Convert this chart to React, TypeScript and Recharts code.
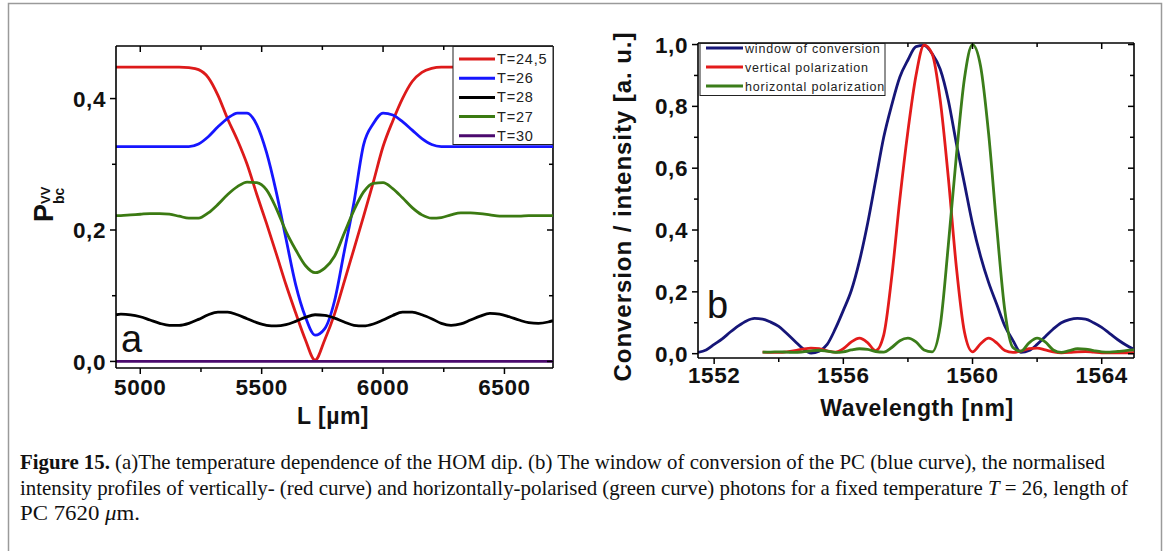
import React from 'react';
import { LineChart, Line, XAxis, YAxis, ReferenceLine } from 'recharts';

// (a) HOM dip vs PC length, for several temperatures
const lengthUm = [
  4900, 4920, 4960, 5000, 5040, 5080, 5120, 5160, 5200, 5240, 5280, 5320, 5360, 5400, 5440, 5480,
  5520, 5560, 5600, 5640, 5680, 5720, 5760, 5800, 5840, 5880, 5920, 5960, 6000, 6040, 6080, 6120,
  6160, 6200, 6240, 6280, 6320, 6360, 6400, 6440, 6480, 6520, 6560, 6600, 6640, 6680, 6700,
];
const pT245 = [
  0.448, 0.448, 0.448, 0.448, 0.448, 0.448, 0.448, 0.448, 0.447, 0.444, 0.432, 0.405, 0.369, 0.337, 0.3, 0.254,
  0.21, 0.164, 0.117, 0.074, 0.033, 0.002, 0.033, 0.072, 0.121, 0.171, 0.221, 0.273, 0.327, 0.366, 0.4, 0.426,
  0.44, 0.446, 0.448, 0.448, 0.448, 0.448, 0.448, 0.448, 0.448, 0.448, 0.448, 0.448, 0.448, 0.448, 0.448,
];
const pT26 = [
  0.327, 0.327, 0.327, 0.327, 0.327, 0.327, 0.327, 0.327, 0.327, 0.331, 0.342, 0.357, 0.37, 0.378, 0.378, 0.36,
  0.318, 0.258, 0.187, 0.117, 0.068, 0.04, 0.05, 0.092, 0.167, 0.242, 0.33, 0.362, 0.378, 0.375, 0.365, 0.352,
  0.339, 0.33, 0.327, 0.327, 0.327, 0.327, 0.327, 0.327, 0.327, 0.327, 0.327, 0.327, 0.327, 0.327, 0.327,
];
const pT28 = [
  0.071, 0.072, 0.071, 0.068, 0.063, 0.058, 0.055, 0.055, 0.058, 0.064, 0.071, 0.075, 0.075, 0.071, 0.065, 0.059,
  0.055, 0.054, 0.056, 0.061, 0.067, 0.071, 0.07, 0.066, 0.06, 0.055, 0.054, 0.057, 0.063, 0.07, 0.075, 0.075,
  0.071, 0.065, 0.058, 0.055, 0.057, 0.063, 0.069, 0.073, 0.072, 0.068, 0.063, 0.059, 0.058, 0.06, 0.062,
];
const pT27 = [
  0.222, 0.222, 0.223, 0.224, 0.225, 0.225, 0.224, 0.221, 0.218, 0.218, 0.226, 0.239, 0.254, 0.266, 0.273, 0.272,
  0.261, 0.233, 0.198, 0.17, 0.146, 0.135, 0.142, 0.16, 0.195, 0.23, 0.258, 0.271, 0.272, 0.263, 0.249, 0.234,
  0.223, 0.218, 0.219, 0.223, 0.226, 0.226, 0.225, 0.223, 0.221, 0.221, 0.221, 0.222, 0.222, 0.222, 0.222,
];
const pT30 = [
  0, 0, 0, 0, 0, 0, 0, 0, 0, 0, 0, 0, 0, 0, 0, 0,
  0, 0, 0, 0, 0, 0, 0, 0, 0, 0, 0, 0, 0, 0, 0, 0,
  0, 0, 0, 0, 0, 0, 0, 0, 0, 0, 0, 0, 0, 0, 0,
];
const lengthTicks = [5000, 5250, 5500, 5750, 6000, 6250, 6500];
const lengthMajor = [5000, 5500, 6000, 6500];
const probTicks = [0, 0.1, 0.2, 0.3, 0.4];
const probMajor = [0, 0.2, 0.4];

// (b) window of conversion and intensity profiles
const wavelengthNm = [
  1551.5, 1551.75, 1552, 1552.25, 1552.5, 1552.75, 1553, 1553.25, 1553.5, 1553.75, 1554, 1554.25, 1554.5, 1554.75,
  1555, 1555.25, 1555.5, 1555.75, 1556, 1556.25, 1556.5, 1556.75, 1557, 1557.25, 1557.5, 1557.75, 1558, 1558.25,
  1558.5, 1558.75, 1559, 1559.25, 1559.5, 1559.75, 1560, 1560.25, 1560.5, 1560.75, 1561, 1561.25, 1561.5, 1561.75,
  1562, 1562.25, 1562.5, 1562.75, 1563, 1563.25, 1563.5, 1563.75, 1564, 1564.25, 1564.5, 1564.75, 1565,
];
const windowConv = [
  0.004, 0.012, 0.03, 0.048, 0.07, 0.09, 0.106, 0.114, 0.112, 0.102, 0.088, 0.065, 0.04, 0.016,
  0.002, 0.008, 0.03, 0.08, 0.14, 0.205, 0.3, 0.42, 0.56, 0.7, 0.805, 0.895, 0.95, 0.993,
  0.997, 0.97, 0.92, 0.82, 0.68, 0.55, 0.42, 0.315, 0.23, 0.16, 0.09, 0.043, 0.004, 0.01,
  0.03, 0.055, 0.08, 0.1, 0.11, 0.114, 0.112, 0.1, 0.085, 0.065, 0.045, 0.028, 0.014,
];
const verticalPol = [
  null, null, null, null, null, null, null, null, 0.005, 0.004, 0.004, 0.006, 0.01, 0.015,
  0.018, 0.016, 0.009, 0.005, 0.016, 0.038, 0.05, 0.036, 0.01, 0.06, 0.25, 0.5, 0.72, 0.9,
  0.998, 0.97, 0.82, 0.57, 0.28, 0.07, 0.006, 0.032, 0.05, 0.035, 0.01, 0.004, 0.008, 0.016,
  0.018, 0.012, 0.006, 0.003, 0.004, 0.006, 0.007, 0.005, 0.003, 0.003, 0.003, 0.003, 0.003,
];
const horizontalPol = [
  null, null, null, null, null, null, null, null, 0.005, 0.005, 0.006, 0.005, 0.004, 0.006,
  0.009, 0.011, 0.008, 0.004, 0.006, 0.012, 0.016, 0.014, 0.007, 0.005, 0.02, 0.042, 0.05, 0.038,
  0.012, 0.006, 0.09, 0.35, 0.64, 0.89, 1.0, 0.93, 0.71, 0.41, 0.14, 0.02, 0.008, 0.035,
  0.05, 0.038, 0.012, 0.004, 0.01, 0.016, 0.015, 0.01, 0.006, 0.005, 0.007, 0.01, 0.012,
];
const waveTicks = [1552, 1554, 1556, 1558, 1560, 1562, 1564];
const waveMajor = [1552, 1556, 1560, 1564];
const convTicks = [0, 0.1, 0.2, 0.3, 0.4, 0.5, 0.6, 0.7, 0.8, 0.9, 1];
const convMajor = [0, 0.2, 0.4, 0.6, 0.8, 1];

const tempSeries = [
  { key: 't245', name: 'T=24,5', color: '#dd1a1a', values: pT245 },
  { key: 't26', name: 'T=26', color: '#1616ff', values: pT26 },
  { key: 't28', name: 'T=28', color: '#000000', values: pT28 },
  { key: 't27', name: 'T=27', color: '#3b7a12', values: pT27 },
  { key: 't30', name: 'T=30', color: '#4b0a6e', values: pT30 },
];
const spectraSeries = [
  { key: 'win', name: 'window of conversion', color: '#161678', values: windowConv },
  { key: 'ver', name: 'vertical polarization', color: '#e31b1b', values: verticalPol },
  { key: 'hor', name: 'horizontal polarization', color: '#3b7d1a', values: horizontalPol },
];

const panelA = lengthUm.map((L, i) => {
  const row: Record<string, number | null> = { L };
  tempSeries.forEach((s) => (row[s.key] = s.values[i]));
  return row;
});
const panelB = wavelengthNm.map((w, i) => {
  const row: Record<string, number | null> = { w };
  spectraSeries.forEach((s) => (row[s.key] = s.values[i]));
  return row;
});

const AXIS = '#000';
const SANS = '"Liberation Sans", Arial, sans-serif';
const SERIF = '"Liberation Serif", "Times New Roman", serif';
const tickFont = { fontFamily: SANS, fontWeight: 700, fontSize: 22.5, fill: '#111', letterSpacing: 0.6 };
const decimal = (v: number) => v.toFixed(1).replace('.', ',');

// bottom ticks outward, mirrored ticks on the top edge pointing in
const xTick = (majors: number[], plotH: number, labelDy: number) => (p: any) => {
  const v = p.payload.value;
  const major = majors.includes(v);
  const len = major ? 6 : 4;
  return (
    <g>
      <line x1={p.x} x2={p.x} y1={p.y} y2={p.y + len} stroke={AXIS} strokeWidth={1.5} />
      <line x1={p.x} x2={p.x} y1={p.y - plotH} y2={p.y - plotH + len} stroke={AXIS} strokeWidth={1.5} />
      {major && (
        <text x={p.x} y={p.y + labelDy} textAnchor="middle" {...tickFont}>
          {v}
        </text>
      )}
    </g>
  );
};

// left ticks outward, mirrored ticks on the right edge pointing in
const yTick = (majors: number[], plotW: number) => (p: any) => {
  const v = p.payload.value;
  const major = majors.includes(v);
  const len = major ? 6 : 4;
  return (
    <g>
      <line x1={p.x - len} x2={p.x} y1={p.y} y2={p.y} stroke={AXIS} strokeWidth={1.5} />
      <line x1={p.x + plotW - len} x2={p.x + plotW} y1={p.y} y2={p.y} stroke={AXIS} strokeWidth={1.5} />
      {major && (
        <text x={p.x - len - 4} y={p.y} dy="0.36em" textAnchor="end" {...tickFont}>
          {decimal(v)}
        </text>
      )}
    </g>
  );
};

const axisLine = { stroke: AXIS, strokeWidth: 1.6 };

const HomDip = () => (
  <LineChart width={600} height={440} data={panelA} margin={{ top: 46, right: 47, bottom: 12, left: 0 }}>
    <XAxis
      dataKey="L"
      type="number"
      domain={[4900, 6700]}
      ticks={lengthTicks}
      interval={0}
      allowDataOverflow
      height={60}
      tickSize={0}
      tickMargin={0}
      tickLine={false}
      axisLine={axisLine}
      tick={xTick(lengthMajor, 322, 27)}
    />
    <YAxis
      type="number"
      domain={[-0.01, 0.48]}
      ticks={probTicks}
      interval={0}
      allowDataOverflow
      width={116}
      tickSize={0}
      tickMargin={0}
      tickLine={false}
      axisLine={axisLine}
      tick={yTick(probMajor, 437)}
    />
    <ReferenceLine y={0.48} stroke={AXIS} strokeWidth={1.6} />
    <ReferenceLine x={6700} stroke={AXIS} strokeWidth={1.6} />
    {tempSeries.map((s) => (
      <Line
        key={s.key}
        dataKey={s.key}
        name={s.name}
        type="monotone"
        stroke={s.color}
        strokeWidth={2.8}
        dot={false}
        activeDot={false}
        isAnimationActive={false}
      />
    ))}
  </LineChart>
);

const Spectra = () => (
  <LineChart width={578} height={440} data={panelB} margin={{ top: 43, right: 34, bottom: 22, left: 0 }}>
    <XAxis
      dataKey="w"
      type="number"
      domain={[1551.5, 1565]}
      ticks={waveTicks}
      interval={0}
      allowDataOverflow
      height={60}
      tickSize={0}
      tickMargin={0}
      tickLine={false}
      axisLine={axisLine}
      tick={xTick(waveMajor, 315, 25)}
    />
    <YAxis
      type="number"
      domain={[-0.014, 1.005]}
      ticks={convTicks}
      interval={0}
      allowDataOverflow
      width={108}
      tickSize={0}
      tickMargin={0}
      tickLine={false}
      axisLine={axisLine}
      tick={yTick(convMajor, 436)}
    />
    <ReferenceLine y={1.005} stroke={AXIS} strokeWidth={1.6} />
    <ReferenceLine x={1565} stroke={AXIS} strokeWidth={1.6} />
    {spectraSeries.map((s) => (
      <Line
        key={s.key}
        dataKey={s.key}
        name={s.name}
        type="monotone"
        stroke={s.color}
        strokeWidth={2.8}
        dot={false}
        activeDot={false}
        isAnimationActive={false}
      />
    ))}
  </LineChart>
);

const Overlay = () => (
  <svg width={1168} height={551} style={{ position: 'absolute', left: 0, top: 0, pointerEvents: 'none' }}>
    <rect x={8.5} y={3.5} width={1153} height={570} fill="none" stroke="#9a9a9a" strokeWidth={1.5} />

    {/* legend (a) */}
    <rect x={453} y={46.5} width={100} height={98} fill="#fff" stroke="#222" strokeWidth={1} />
    {tempSeries.map((s, i) => (
      <g key={s.key}>
        <line x1={459} x2={495} y1={59 + i * 19.2} y2={59 + i * 19.2} stroke={s.color} strokeWidth={3} />
        <text x={497} y={59 + i * 19.2 + 5} fontFamily={SANS} fontSize={14.5} letterSpacing={0.8} fill="#222">
          {s.name}
        </text>
      </g>
    ))}

    {/* legend (b) */}
    <rect x={700} y={43.5} width={185} height={52} fill="#fff" stroke="#222" strokeWidth={1} />
    {spectraSeries.map((s, i) => (
      <g key={s.key}>
        <line x1={706} x2={743} y1={48 + i * 19} y2={48 + i * 19} stroke={s.color} strokeWidth={3} />
        <text x={745} y={48 + i * 19 + 4.5} fontFamily={SANS} fontSize={12.5} letterSpacing={0.8} fill="#222">
          {s.name}
        </text>
      </g>
    ))}

    {/* axis titles */}
    <g transform="translate(53,222) rotate(-90)">
      <text x={0} y={0} fontFamily={SANS} fontWeight={700} fontSize={27} fill="#111">
        P
        <tspan fontSize={14} dy={11}>
          bc
        </tspan>
        <tspan fontSize={13} x={18} dy={-14}>
          VV
        </tspan>
      </text>
    </g>
    <text x={333} y={424} textAnchor="middle" fontFamily={SANS} fontWeight={700} fontSize={23} letterSpacing={0.5} fill="#111">
      L [µm]
    </text>
    <text x={917} y={416} textAnchor="middle" fontFamily={SANS} fontWeight={700} fontSize={23} letterSpacing={0.6} fill="#111">
      Wavelength [nm]
    </text>
    <g transform="translate(631,207) rotate(-90)">
      <text x={0} y={0} textAnchor="middle" fontFamily={SANS} fontWeight={700} fontSize={24} textLength={349} fill="#111">
        Conversion / intensity [a. u.]
      </text>
    </g>
    <text x={121} y={352} fontFamily={SANS} fontSize={38} fill="#111">
      a
    </text>
    <text x={707} y={318} fontFamily={SANS} fontSize={38} fill="#111">
      b
    </text>

    {/* caption */}
    <text x={20} y={469} fontFamily={SERIF} fontSize={21} fill="#111" textLength={1085} lengthAdjust="spacingAndGlyphs">
      <tspan fontWeight={700}>Figure 15.</tspan> (a)The temperature dependence of the HOM dip. (b) The window of conversion of
      the PC (blue curve), the normalised
    </text>
    <text x={20} y={495} fontFamily={SERIF} fontSize={21} fill="#111" textLength={1108} lengthAdjust="spacingAndGlyphs">
      intensity profiles of vertically- (red curve) and horizontally-polarised (green curve) photons for a fixed temperature{' '}
      <tspan fontStyle="italic">T</tspan> = 26, length of
    </text>
    <text x={20} y={520} fontFamily={SERIF} fontSize={21} fill="#111" textLength={120} lengthAdjust="spacingAndGlyphs">
      PC 7620 <tspan fontStyle="italic">μ</tspan>m.
    </text>
  </svg>
);

const App = () => (
  <div style={{ position: 'absolute', left: 0, top: 0, width: 1168, height: 551, background: '#fff', overflow: 'hidden' }}>
    <div style={{ position: 'absolute', left: 0, top: 0 }}>
      <HomDip />
    </div>
    <div style={{ position: 'absolute', left: 590, top: 0 }}>
      <Spectra />
    </div>
    <Overlay />
  </div>
);

export default App;
